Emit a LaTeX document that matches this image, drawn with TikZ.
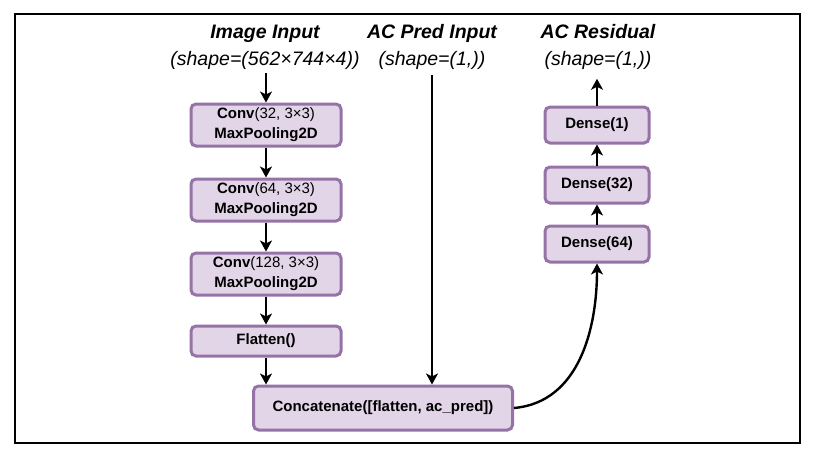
\documentclass[tikz,border=0pt]{standalone}
\usepackage{fontspec}
\setmainfont{Liberation Sans}
\usetikzlibrary{arrows.meta,positioning}

\definecolor{layerfill}{HTML}{E1D5E7}
\definecolor{layerline}{HTML}{9673A6}

\tikzset{
    layer/.style={rectangle, rounded corners=5pt, draw=layerline, fill=layerfill,
        line width=3pt, minimum width=150pt, minimum height=42pt, align=center,
        inner sep=0pt, font=\fontsize{15}{20}\selectfont},
    head/.style={align=center, inner sep=1pt, font=\fontsize{19.5}{27}\selectfont\bfseries\itshape},
    arr/.style={-{Stealth[length=11pt,width=12pt,inset=3pt]}, line width=2.4pt}
}

\begin{document}
\begin{tikzpicture}[x=1pt, y=-1pt]
    \useasboundingbox (0,0) rectangle (815,458);

    % outer frame
    \draw[line width=2.2pt] (15,14) rectangle (800,443);

    % inputs and output labels
    \node[head] (imgin) at (265,47) {Image Input\\ \mdseries(shape=(562×744×4))};
    \node[head] (acin)  at (432,47) {AC Pred Input\\ \mdseries(shape=(1,))};
    \node[head] (acres) at (598,47) {AC Residual\\ \mdseries(shape=(1,))};

    % image branch
    \node[layer] (conv1) at (266,125) {\textbf{Conv}(32, 3×3)\\ \textbf{MaxPooling2D}};
    \node[layer] (conv2) at (266,200) {\textbf{Conv}(64, 3×3)\\ \textbf{MaxPooling2D}};
    \node[layer] (conv3) at (266,274) {\textbf{Conv}(128, 3×3)\\ \textbf{MaxPooling2D}};
    \node[layer, minimum height=30pt] (flatten) at (266,341) {\textbf{Flatten()}};

    % merge
    \node[layer, minimum width=259pt, minimum height=44pt] (concat) at (383,408)
        {\textbf{Concatenate([flatten, ac\_pred])}};

    % dense head
    \node[layer, minimum width=104pt, minimum height=36pt] (dense64) at (597,244) {\textbf{Dense(64)}};
    \node[layer, minimum width=104pt, minimum height=36pt] (dense32) at (597,185) {\textbf{Dense(32)}};
    \node[layer, minimum width=104pt, minimum height=36pt] (dense1)  at (597,125) {\textbf{Dense(1)}};

    % connectors
    \draw[arr, shorten <=3pt] (imgin.south -| conv1.north) -- (conv1.north);
    \draw[arr] (conv1) -- (conv2);
    \draw[arr] (conv2) -- (conv3);
    \draw[arr] (conv3) -- (flatten);
    \draw[arr] (flatten.south) -- (flatten.south |- concat.north);
    \draw[arr, shorten <=4pt] (acin.south) -- (acin.south |- concat.north);
    \draw[arr] (concat.east) to[out=5, in=-90] (dense64.south);
    \draw[arr] (dense64) -- (dense32);
    \draw[arr] (dense32) -- (dense1);
    \draw[arr, shorten >=8pt] (dense1.north) -- (dense1.north |- acres.south);
\end{tikzpicture}
\end{document}
